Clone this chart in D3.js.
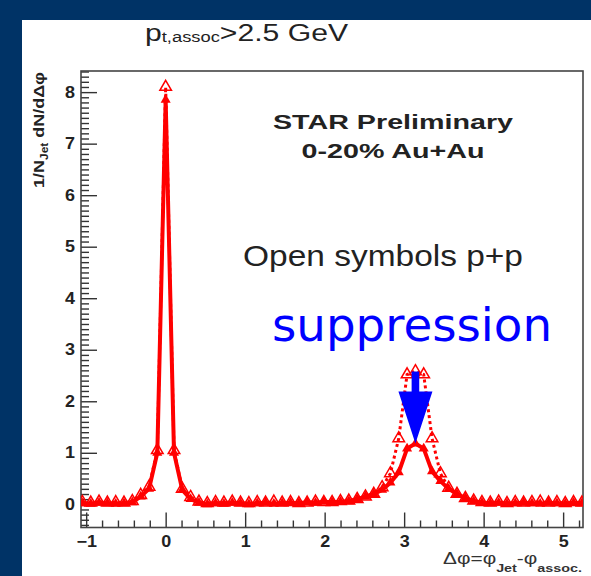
<!DOCTYPE html>
<html>
<head>
<meta charset="utf-8">
<script src="https://cdn.jsdelivr.net/npm/d3@7"></script>
<style>
  html, body { margin: 0; padding: 0; background: #003366; }
  svg { display: block; }
</style>
</head>
<body>
<svg id="chart" width="591" height="576"></svg>
<script>
// Azimuthal correlation bins (bin centres, rad)
const dphi = [
  -1.047, -0.942, -0.838, -0.733, -0.628, -0.524, -0.419, -0.314, -0.209, -0.105,
  0.000, 0.105, 0.209, 0.314, 0.419, 0.524, 0.628, 0.733, 0.838, 0.942,
  1.047, 1.152, 1.257, 1.361, 1.466, 1.571, 1.676, 1.780, 1.885, 1.990,
  2.094, 2.199, 2.304, 2.409, 2.513, 2.618, 2.723, 2.827, 2.932, 3.037,
  3.142, 3.246, 3.351, 3.456, 3.560, 3.665, 3.770, 3.875, 3.979, 4.084,
  4.189, 4.294, 4.398, 4.503, 4.608, 4.712, 4.817, 4.922, 5.027, 5.131,
  5.236
];

// p+p reference (open symbols, dotted)
const ppValues = [
  0.04, 0.03, 0.05, 0.03, 0.04, 0.03, 0.06, 0.18, 0.34, 1.05,
  8.10, 1.05, 0.30, 0.14, 0.05, 0.02, 0.04, 0.03, 0.05, 0.03,
  0.02, 0.04, 0.03, 0.05, 0.03, 0.04, 0.02, 0.03, 0.05, 0.04,
  0.04, 0.06, 0.07, 0.10, 0.15, 0.20, 0.33, 0.60, 1.28, 2.52,
  2.58, 2.52, 1.28, 0.60, 0.32, 0.20, 0.12, 0.07, 0.04, 0.03,
  0.05, 0.02, 0.04, 0.03, 0.04, 0.05, 0.03, 0.04, 0.02, 0.04,
  0.03
];

// 0-20% Au+Au (solid symbols, solid line)
const auauValues = [
  0.02, 0.01, 0.03, 0.02, 0.01, 0.02, 0.04, 0.15, 0.30, 1.00,
  7.85, 1.00, 0.28, 0.10, 0.03, 0.00, 0.02, 0.01, 0.03, 0.02,
  0.00, 0.02, 0.03, 0.01, 0.02, 0.03, 0.02, 0.04, 0.03, 0.05,
  0.04, 0.05, 0.06, 0.10, 0.15, 0.20, 0.28, 0.42, 0.62, 1.08,
  1.18, 1.08, 0.64, 0.45, 0.30, 0.20, 0.12, 0.06, 0.03, 0.02,
  0.03, 0.01, 0.02, 0.03, 0.02, 0.01, 0.03, 0.02, 0.01, 0.03,
  0.02
];

const xTickValues = [-1, 0, 1, 2, 3, 4, 5];
const yTickValues = [0, 1, 2, 3, 4, 5, 6, 7, 8];

const titleMain = ">2.5 GeV";
const statusLines = ["STAR Preliminary", "0-20% Au+Au"];
const noteText = "Open symbols p+p";
const annotationText = "suppression";

const W = 591, H = 576;
const plot = { left: 81, right: 583, top: 71, bottom: 527.5 };
const RED = "#ff0000";
const BLUE = "#0000ff";
const INK = "#222222";
const ROOTFONT = "'Liberation Sans', Arial, Helvetica, sans-serif";

const svg = d3.select("#chart");

// slide background and white canvas
svg.append("rect").attr("width", W).attr("height", H).attr("fill", "#003366");
svg.append("rect").attr("x", 22).attr("y", 20).attr("width", W - 22).attr("height", H - 20).attr("fill", "#ffffff");

const x = d3.scaleLinear().domain([-1.065, 5.25]).range([plot.left, plot.right]);
const y = d3.scaleLinear().domain([-0.45, 8.41]).range([plot.bottom, plot.top]);

// stretch text horizontally by a factor
function widen(sel, k) {
  sel.each(function () {
    const w = this.getComputedTextLength();
    d3.select(this).attr("textLength", w * k).attr("lengthAdjust", "spacingAndGlyphs");
  });
}

// ---- axes ----
const yMinor = d3.range(-0.4, 8.41, 0.1).map(v => +v.toFixed(1)).filter(v => Math.abs(v - Math.round(v)) > 1e-6);
const xMinor = d3.range(-1.0, 5.25, 0.2).map(v => +v.toFixed(1)).filter(v => Math.abs(v - Math.round(v)) > 1e-6);

const gY = svg.append("g").attr("transform", `translate(${plot.left},0)`);
gY.call(d3.axisLeft(y).tickValues(yTickValues).tickSize(-16).tickPadding(6).tickFormat(d3.format("d")));
gY.append("g").call(d3.axisLeft(y).tickValues(yMinor).tickSize(-8).tickFormat(""));

const gX = svg.append("g").attr("transform", `translate(0,${plot.bottom})`);
gX.call(d3.axisBottom(x).tickValues(xTickValues).tickSize(-15).tickPadding(8).tickFormat(d3.format("d")));
gX.append("g").call(d3.axisBottom(x).tickValues(xMinor).tickSize(-7).tickFormat(""));

svg.selectAll(".domain").remove();
svg.selectAll(".tick line").attr("stroke", "#333").attr("stroke-width", 1.4);
svg.selectAll(".tick text")
  .attr("font-family", ROOTFONT).attr("font-size", 16).attr("font-weight", "bold").attr("fill", INK);
gX.selectAll(".tick text").attr("dy", "0.72em");
widen(svg.selectAll(".tick text"), 1.12);

// frame
svg.append("rect")
  .attr("x", plot.left).attr("y", plot.top)
  .attr("width", plot.right - plot.left).attr("height", plot.bottom - plot.top)
  .attr("fill", "none").attr("stroke", "#444").attr("stroke-width", 1.6);

// ---- data ----
svg.append("clipPath").attr("id", "plotclip").append("rect")
  .attr("x", plot.left).attr("y", plot.top)
  .attr("width", plot.right - plot.left).attr("height", plot.bottom - plot.top);

const gData = svg.append("g").attr("clip-path", "url(#plotclip)");
const line = d3.line().x(d => x(d[0])).y(d => y(d[1]));
const auau = dphi.map((d, i) => [d, auauValues[i]]);
const pp = dphi.map((d, i) => [d, ppValues[i]]);

// p+p: dotted line with open triangles
gData.append("path").datum(pp).attr("d", line)
  .attr("fill", "none").attr("stroke", RED).attr("stroke-width", 3).attr("stroke-dasharray", "3,3");
gData.selectAll(".pp").data(pp).join("path").attr("class", "pp")
  .attr("transform", d => `translate(${x(d[0])},${y(d[1])})`)
  .attr("d", d3.symbol(d3.symbolTriangle, 58))
  .attr("fill", "none").attr("stroke", RED).attr("stroke-width", 1.5);

// Au+Au: solid line with filled triangles
gData.append("path").datum(auau).attr("d", line)
  .attr("fill", "none").attr("stroke", RED).attr("stroke-width", 4).attr("stroke-linejoin", "round");
gData.selectAll(".auau").data(auau).join("path").attr("class", "auau")
  .attr("transform", d => `translate(${x(d[0])},${y(d[1])})`)
  .attr("d", d3.symbol(d3.symbolTriangle, 44))
  .attr("fill", RED);

// ---- texts ----
const title = svg.append("text").attr("x", 145).attr("y", 41)
  .attr("font-family", ROOTFONT).attr("font-size", 23).attr("fill", INK);
title.append("tspan").text("p");
title.append("tspan").attr("font-size", 14).attr("dy", 1).text("t,assoc");
title.append("tspan").attr("dy", -1).text(titleMain);
title.attr("textLength", 203).attr("lengthAdjust", "spacingAndGlyphs");

statusLines.forEach((s, i) => {
  svg.append("text").attr("x", 393).attr("y", 129 + i * 29)
    .attr("text-anchor", "middle").attr("font-family", ROOTFONT)
    .attr("font-size", 20).attr("font-weight", "bold").attr("fill", INK)
    .attr("textLength", i === 0 ? 240 : 183).attr("lengthAdjust", "spacingAndGlyphs")
    .text(s);
});

svg.append("text").attr("x", 383).attr("y", 266)
  .attr("text-anchor", "middle").attr("font-family", ROOTFONT)
  .attr("font-size", 30).attr("fill", INK)
  .attr("textLength", 280).attr("lengthAdjust", "spacingAndGlyphs")
  .text(noteText);

svg.append("text").attr("x", 272).attr("y", 341)
  .attr("font-family", "'DejaVu Sans', sans-serif")
  .attr("font-size", 47).attr("fill", BLUE)
  .attr("textLength", 280).attr("lengthAdjust", "spacingAndGlyphs")
  .text(annotationText);

// y-axis title
const yTitle = svg.append("text")
  .attr("transform", "translate(44,188) rotate(-90)")
  .attr("font-family", ROOTFONT).attr("font-size", 15).attr("font-weight", "bold").attr("fill", INK);
yTitle.append("tspan").text("1/N");
yTitle.append("tspan").attr("font-size", 10).attr("dy", 4).text("Jet");
yTitle.append("tspan").attr("dy", -4).text(" dN/d\u0394\u03c6");
yTitle.attr("textLength", 116).attr("lengthAdjust", "spacingAndGlyphs");

// x-axis title
const xTitle = svg.append("text").attr("x", 582).attr("y", 564).attr("text-anchor", "end")
  .attr("font-family", ROOTFONT).attr("font-size", 16).attr("fill", "#333");
xTitle.append("tspan").text("\u0394\u03c6=\u03c6");
xTitle.append("tspan").attr("font-size", 11).attr("font-weight", "bold").attr("dy", 8).text("Jet");
xTitle.append("tspan").attr("dy", -8).text("-\u03c6");
xTitle.append("tspan").attr("font-size", 11).attr("font-weight", "bold").attr("dy", 8).text("assoc.");
xTitle.attr("textLength", 139).attr("lengthAdjust", "spacingAndGlyphs");

// suppression arrow: from p+p away-side peak down to Au+Au away-side peak
const peakIdx = dphi.indexOf(3.142);
const ax = x(dphi[peakIdx]);
const yTop = y(ppValues[peakIdx]);
const yTip = y(auauValues[peakIdx]);
const headLen = 52, headHalf = 17, shaftHalf = 3.8;
svg.append("path")
  .attr("d", `M${ax - shaftHalf},${yTop} L${ax + shaftHalf},${yTop} L${ax + shaftHalf},${yTip - headLen}
    L${ax + headHalf},${yTip - headLen} L${ax},${yTip} L${ax - headHalf},${yTip - headLen}
    L${ax - shaftHalf},${yTip - headLen} Z`)
  .attr("fill", BLUE);
</script>
</body>
</html>
